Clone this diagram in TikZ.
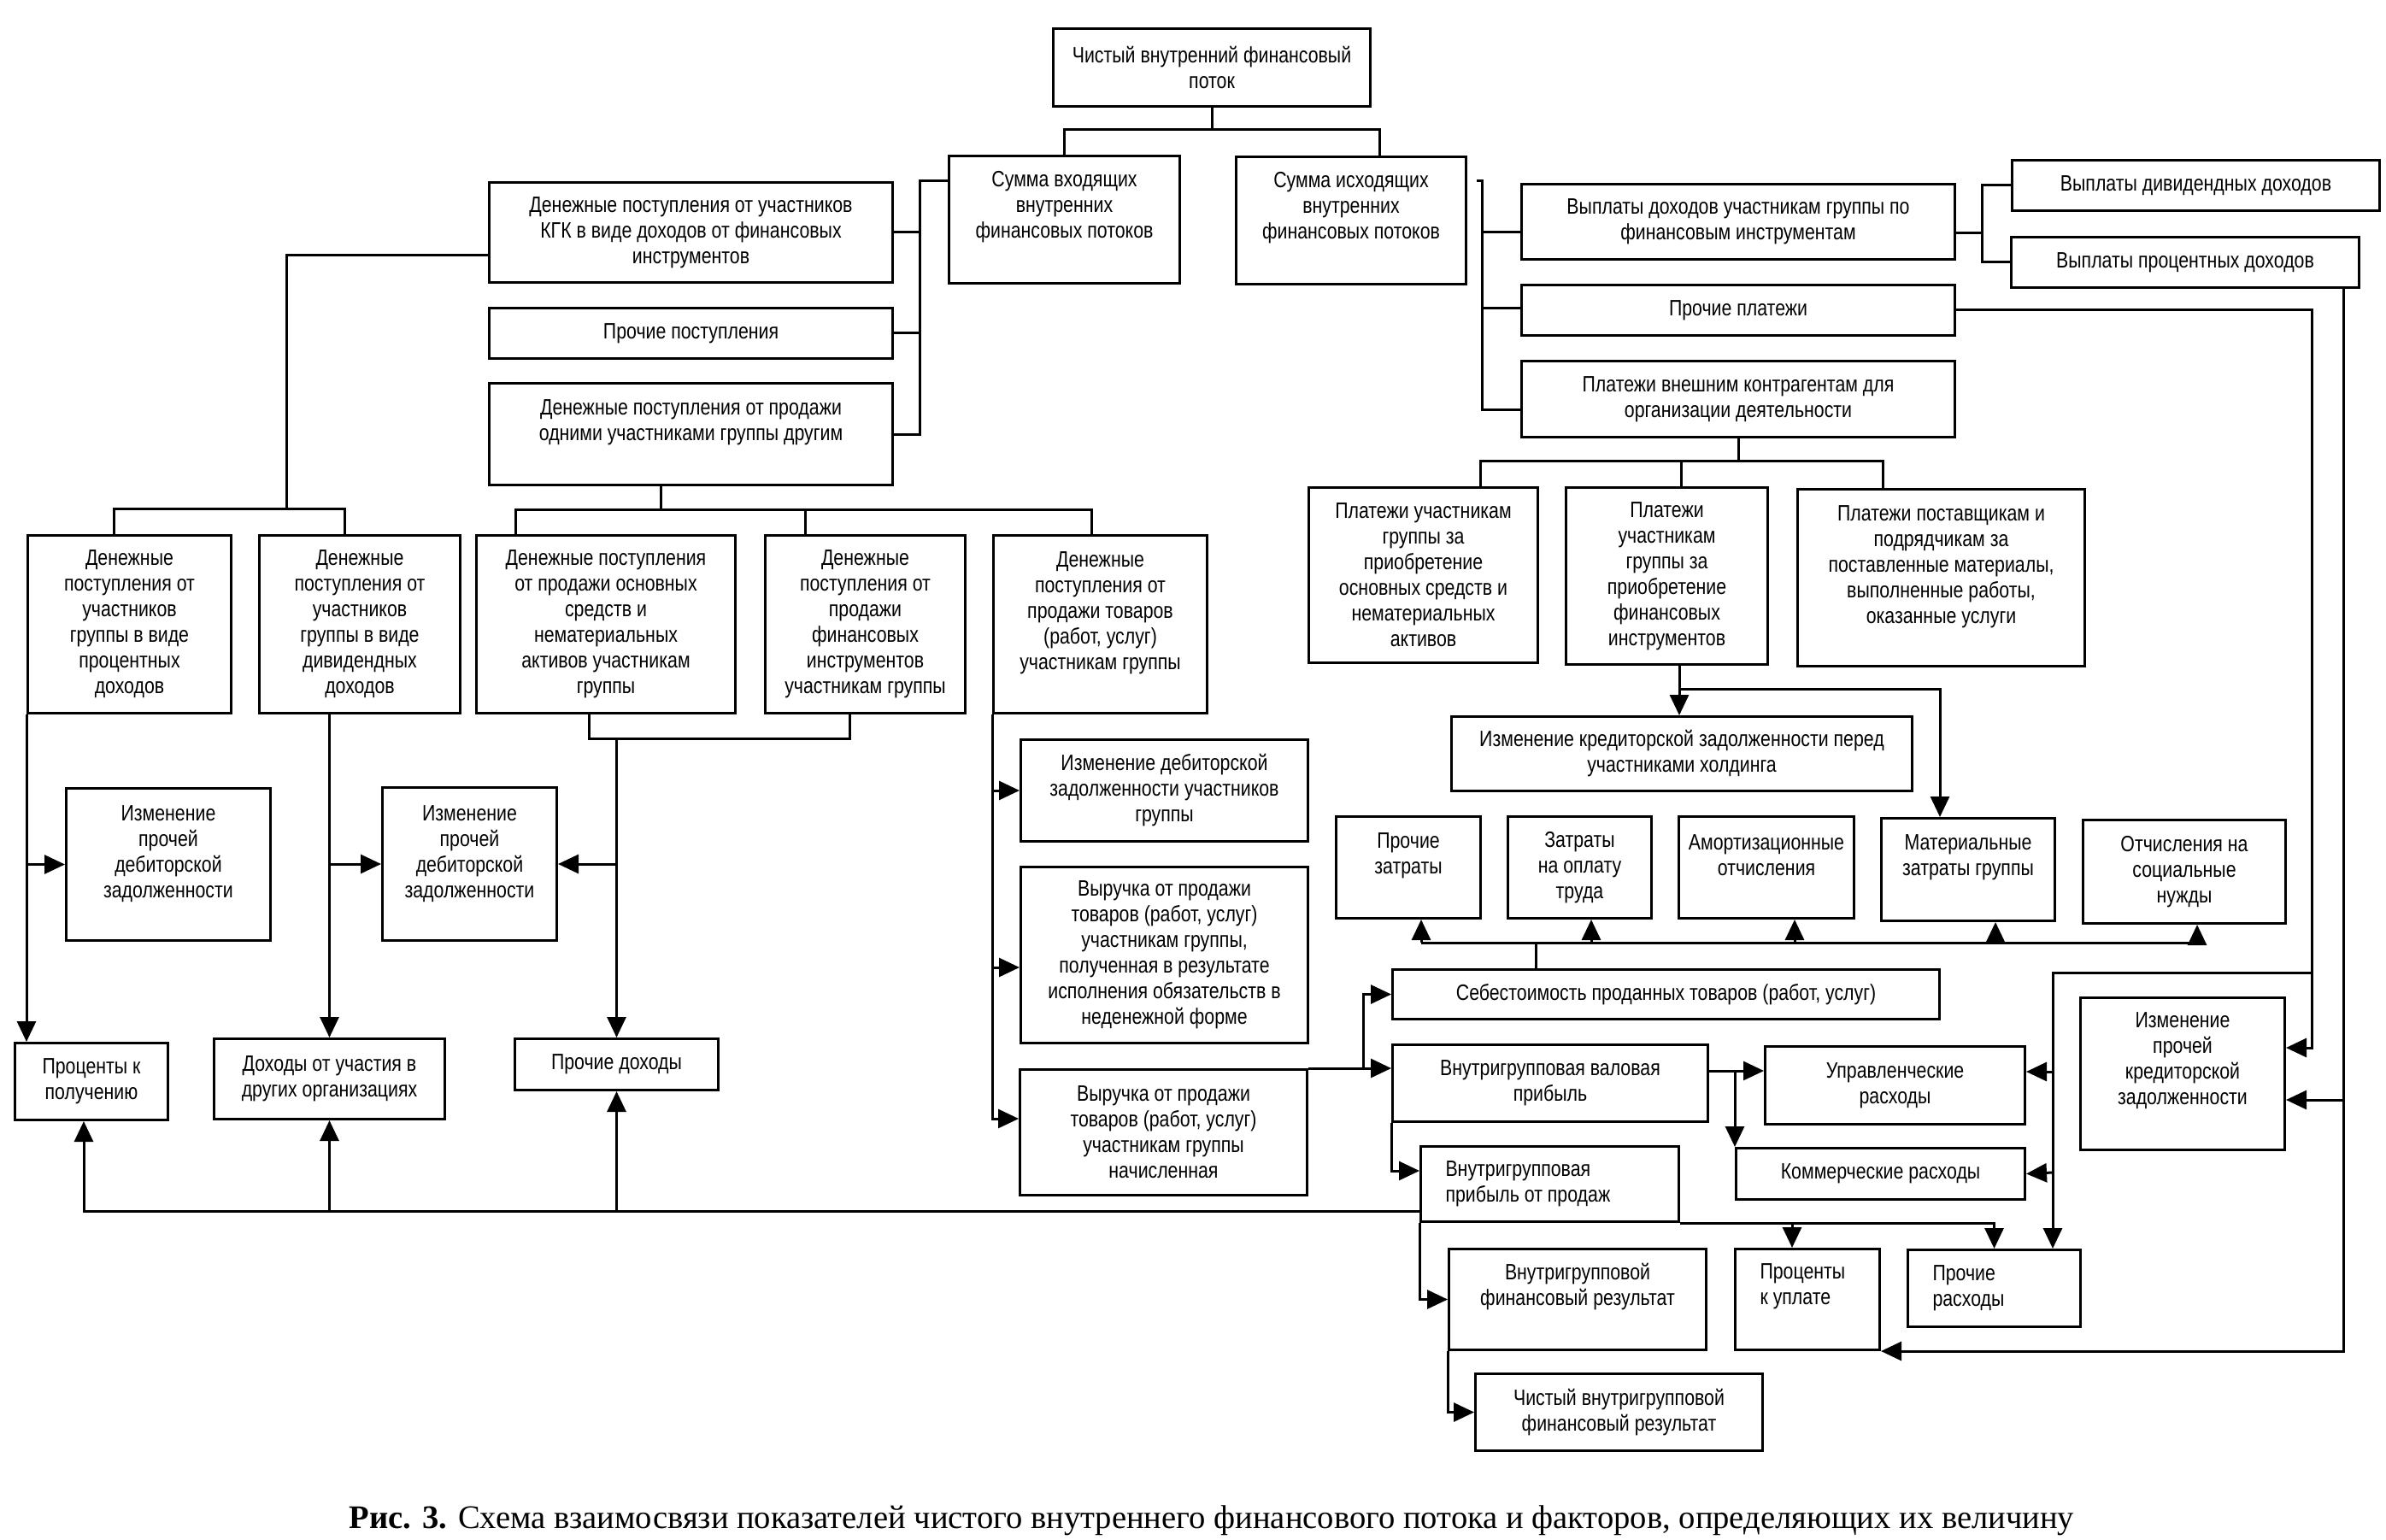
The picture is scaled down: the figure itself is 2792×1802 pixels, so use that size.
\documentclass[tikz,border=0pt]{standalone}
\usepackage{fontspec}
\setmainfont{Liberation Sans}[FakeStretch=0.82]
\newfontfamily\capfont{Liberation Serif}
\usetikzlibrary{arrows.meta,calc}

% box at pixel coords: [format]{name}{x1}{y1}{x2}{y2}{lift}{text}
\newcommand\bx[8][\centering]{%
  \node[box] (#2) at (#3,#4)
    {\parbox[c][\dimexpr(#6pt-#4pt)/2\relax][c]{\dimexpr(#5pt-#3pt)/2\relax}{#1#8\par\vspace*{#7pt}}};}
\newcommand\lft{\raggedright\leftskip=14.5pt\relax}

\tikzset{
  box/.style={draw,line width=1.5pt,inner sep=0pt,anchor=north west},
  arr/.style={-{Triangle[length=12pt,width=11pt]}}
}

\begin{document}
\begin{tikzpicture}
[x=0.5pt,y=-0.5pt,line width=1.5pt,font=\fontsize{13}{15}\selectfont]
\useasboundingbox (0,0) rectangle (2792,1802);

% top and sums
\bx{top}{1231}{32}{1602}{123}{0}{Чистый внутренний финансовый\\поток}
\bx{sumin}{1109}{181}{1379}{330}{15}{Сумма входящих\\внутренних\\финансовых потоков}
\bx{sumout}{1445}{182}{1714}{331}{15}{Сумма исходящих\\внутренних\\финансовых потоков}

% incoming side
\bx{kgk}{571}{212}{1043}{329}{0}{Денежные поступления от участников\\КГК в виде доходов от финансовых\\инструментов}
\bx{prpost}{571}{359}{1043}{418}{0}{Прочие поступления}
\bx{prodrug}{571}{447}{1043}{566}{14}{Денежные поступления от продажи\\одними участниками группы другим}
\bx{dproc}{31}{625}{269}{833}{0}{Денежные\\поступления от\\участников\\группы в виде\\процентных\\доходов}
\bx{ddiv}{302}{625}{537}{833}{0}{Денежные\\поступления от\\участников\\группы в виде\\дивидендных\\доходов}
\bx{dos}{556}{625}{859}{833}{0}{Денежные поступления\\от продажи основных\\средств и\\нематериальных\\активов участникам\\группы}
\bx{dfin}{894}{625}{1128}{833}{0}{Денежные\\поступления от\\продажи\\финансовых\\инструментов\\участникам группы}
\bx{dtov}{1161}{625}{1411}{833}{13}{Денежные\\поступления от\\продажи товаров\\(работ, услуг)\\участникам группы}
\bx{izm1}{76}{921}{315}{1099}{12}{Изменение\\прочей\\дебиторской\\задолженности}
\bx{izm2}{446}{920}{650}{1099}{12}{Изменение\\прочей\\дебиторской\\задолженности}
\bx{procpol}{16}{1219}{195}{1309}{0}{Проценты к\\получению}
\bx{dohuch}{249}{1214}{519}{1308}{0}{Доходы от участия в\\других организациях}
\bx{prdoh}{601}{1214}{839}{1274}{0}{Прочие доходы}
\bx{idz}{1193}{864}{1529}{983}{0}{Изменение дебиторской\\задолженности участников\\группы}
\bx{vnd}{1193}{1013}{1529}{1219}{0}{Выручка от продажи\\товаров (работ, услуг)\\участникам группы,\\полученная в результате\\исполнения обязательств в\\неденежной форме}
\bx{vnach}{1192}{1250}{1528}{1397}{0}{Выручка от продажи\\товаров (работ, услуг)\\участникам группы\\начисленная}

% outgoing side
\bx{vyplD}{1779}{214}{2286}{302}{0}{Выплаты доходов участникам группы по\\финансовым инструментам}
\bx{prplat}{1779}{332}{2286}{391}{0}{Прочие платежи}
\bx{plvn}{1779}{421}{2286}{510}{0}{Платежи внешним контрагентам для\\организации деятельности}
\bx{vdiv}{2353}{186}{2783}{245}{0}{Выплаты дивидендных доходов}
\bx{vproc}{2352}{276}{2759}{335}{0}{Выплаты процентных доходов}
\bx{pos}{1530}{569}{1798}{774}{0}{Платежи участникам\\группы за\\приобретение\\основных средств и\\нематериальных\\активов}
\bx{pfin}{1831}{569}{2067}{776}{0}{Платежи\\участникам\\группы за\\приобретение\\финансовых\\инструментов}
\bx{ppost}{2102}{571}{2438}{778}{13}{Платежи поставщикам и\\подрядчикам за\\поставленные материалы,\\выполненные работы,\\оказанные услуги}
\bx{ikz}{1697}{837}{2236}{924}{0}{Изменение кредиторской задолженности перед\\участниками холдинга}
\bx{przat}{1562}{954}{1731}{1073}{14}{Прочие\\затраты}
\bx{ztrud}{1763}{954}{1931}{1073}{0}{Затраты\\на оплату\\труда}
\bx{amort}{1963}{954}{2168}{1073}{14}{Амортизационные\\отчисления}
\bx{mat}{2200}{956}{2403}{1076}{14}{Материальные\\затраты группы}
\bx{soc}{2436}{958}{2673}{1079}{0}{Отчисления на\\социальные\\нужды}

% results
\bx{seb}{1628}{1133}{2268}{1191}{0}{Себестоимость проданных товаров (работ, услуг)}
\bx{vvp}{1628}{1221}{1997}{1311}{0}{Внутригрупповая валовая\\прибыль}
\bx[\lft]{vpp}{1661}{1340}{1963}{1428}{0}{Внутригрупповая\\прибыль от продаж}
\bx{vfr}{1694}{1460}{1995}{1578}{15}{Внутригрупповой\\финансовый результат}
\bx{chvfr}{1725}{1606}{2061}{1696}{0}{Чистый внутригрупповой\\финансовый результат}
\bx{upr}{2064}{1223}{2368}{1314}{0}{Управленческие\\расходы}
\bx{kom}{2030}{1342}{2368}{1402}{0}{Коммерческие расходы}
\bx[\lft]{procupl}{2029}{1460}{2198}{1578}{15}{Проценты\\к уплате}
\bx[\lft]{prrash}{2231}{1461}{2433}{1551}{0}{Прочие\\расходы}
\bx{ipkz}{2433}{1166}{2672}{1344}{15}{Изменение\\прочей\\кредиторской\\задолженности}

\node[font=\capfont\fontsize{19.3}{22}\selectfont] (cap) at (1418,1779)
  {\textbf{Рис. 3.} Схема взаимосвязи показателей чистого внутреннего финансового потока и факторов, определяющих их величину};

% top links
\draw (top.south) -- (top.south |- 0,152) coordinate (tj);
\draw (sumin.north) |- (tj) -| (sumout.north -| 1614,0);

% incoming links
\draw (sumin.west |- 0,212) -- (1076,212) |- (prodrug.east);
\draw (kgk.east) -- (kgk.east -| 1076,0);
\draw (prpost.east) -- (prpost.east -| 1076,0);
\draw (kgk.west |- 0,299) -| (335,595);
\draw (dproc.north -| 133,0) -- (133,595) -- (403,595) -- (ddiv.north -| 403,0);
\draw (prodrug.south -| 773,0) -- (773,596);
\draw (dos.north -| 603,0) -- (603,596) -- (1277,596) -- (dtov.north -| 1277,0);
\draw (942,596) -- (dfin.north -| 942,0);

\draw[arr] (dproc.south west) -- (procpol.north -| dproc.south west);
\draw[arr] (izm1.west -| dproc.west) -- (izm1.west);
\draw[arr] (ddiv.south -| dohuch.north) -- (dohuch.north);
\draw[arr] (izm2.west -| dohuch.north) -- (izm2.west);
\draw (dos.south -| 689,0) -- (689,864) -| (dfin.south -| 994,0);
\draw[arr] (prdoh.north |- 0,864) -- (prdoh.north);
\draw[arr] (izm2.east -| prdoh.north) -- (izm2.east);

\draw[arr] (vpp.west |- 0,1417) -| (procpol.south -| 98,0);
\draw[arr] (dohuch.south |- 0,1417) -- (dohuch.south);
\draw[arr] (prdoh.south |- 0,1417) -- (prdoh.south);

\draw[arr] (dtov.south west) |- (idz.west);
\draw[arr] (dtov.south west) |- (vnd.west |- 0,1132);
\draw[arr] (dtov.south west) |- (vnach.west |- 0,1309);
\draw[arr] (vnach.north east) -- (vvp.west |- vnach.north east);
\draw[arr] (vnach.north east -| 1595,0) |- (seb.west);

% costs
\draw (seb.north -| 1797,0) -- (1797,1103);
\draw (1663,1103) -- (2571,1103);
\foreach \n/\x in {przat/1663,ztrud/1862,amort/2100,mat/2335,soc/2571}
  \draw[arr] (\x,1103) -- (\n.south -| \x,0);

% profit chain
\draw[arr] (vvp.south west) |- (vpp.west |- 0,1370);
\draw[arr] (vvp.east |- 0,1253) -- (upr.west |- 0,1253);
\draw[arr] (kom.north west |- 0,1253) -- (kom.north west);
\draw[arr] (vpp.south west) |- (vfr.west);
\draw[arr] (vfr.south west) |- (chvfr.west);
\draw[arr] (vpp.south east) -| (prrash.north);
\draw[arr] (vpp.south -| 2097,0) -- (procupl.north -| 2097,0);

% outgoing links
\draw ($(sumout.north east)+(11,30)$) -- (1734,212) |- (plvn.west |- 0,480);
\draw (1734,272) -- (vyplD.west |- 0,272);
\draw (1734,361) -- (prplat.west |- 0,361);
\draw (vyplD.east |- 0,273) -- (2319,273);
\draw (vdiv.west) -| (2319,273) |- (vproc.west);
\draw (plvn.south) -- (plvn.south |- 0,539);
\draw (pos.north -| 1732,0) -- (1732,539) -- (2203,539) -- (ppost.north -| 2203,0);
\draw (1967,539) -- (pfin.north -| 1967,0);
\draw[arr] (pfin.south -| 1965,0) -- (ikz.north -| 1965,0);
\draw[arr] (1965,806) -| (mat.north -| 2270,0);

\draw[arr] (prplat.east) -| (2705,1226) -- (ipkz.east |- 0,1226);
\draw[arr] (2705,1138) -| (prrash.north -| 2402,0);
\draw[arr] (2402,1254) -- (upr.east |- 0,1254);
\draw[arr] (2402,1372) -- (kom.east);
\draw[arr] (vproc.south -| 2742,0) |- (procupl.south east);
\draw[arr] (2742,1287) -- (ipkz.east |- 0,1287);
\end{tikzpicture}
\end{document}
